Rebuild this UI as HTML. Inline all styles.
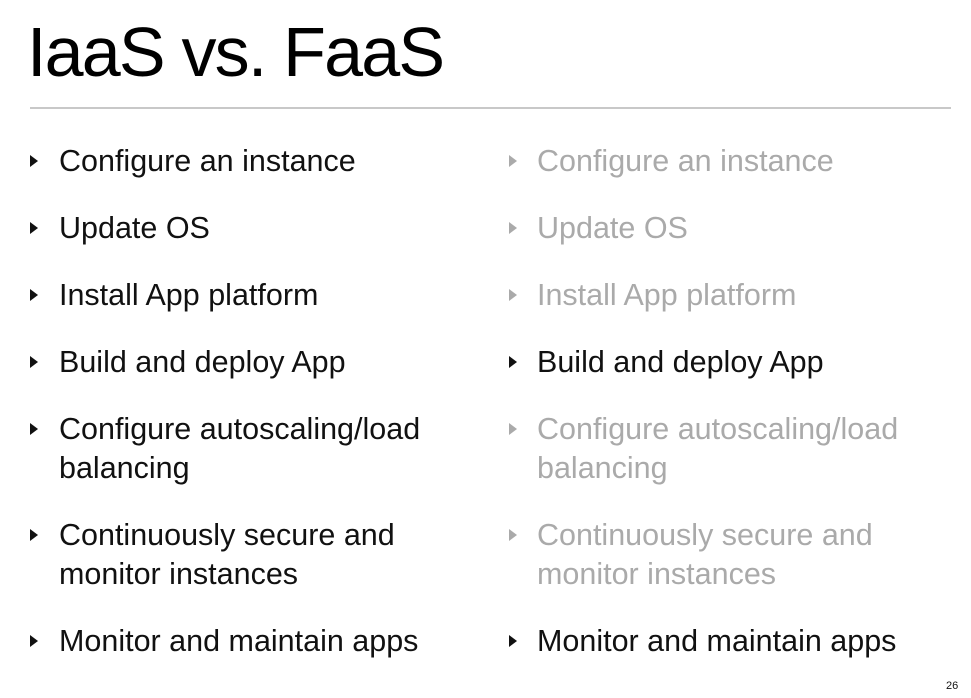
<!DOCTYPE html>
<html><head><meta charset="utf-8"><style>
html,body{margin:0;padding:0;background:#fff;}
body{width:971px;height:698px;position:relative;overflow:hidden;font-family:"Liberation Sans",sans-serif;}
.t{position:absolute;left:27px;top:12px;font-size:70px;line-height:80px;color:#000;letter-spacing:-1.8px;}
.rule{position:absolute;left:30px;top:107px;width:921px;height:2px;background:#c8c8c8;}
.b{position:absolute;font-size:30.5px;line-height:39px;color:#111;}
.g{color:#aaa;}
.tri{position:absolute;width:0;height:0;border-top:6.5px solid transparent;border-bottom:6.5px solid transparent;border-left:8px solid #111;}
.tri.g{border-left-color:#aaa;}
.pn{position:absolute;left:946px;top:680px;font-size:11px;color:#111;}
</style></head><body>
<div class="t">IaaS vs. FaaS</div>
<div class="rule"></div>

<div class="tri" style="left:30px;top:155px"></div><div class="b" style="left:59px;top:142px">Configure an instance</div>
<div class="tri" style="left:30px;top:222px"></div><div class="b" style="left:59px;top:209px">Update OS</div>
<div class="tri" style="left:30px;top:289px"></div><div class="b" style="left:59px;top:276px">Install App platform</div>
<div class="tri" style="left:30px;top:356px"></div><div class="b" style="left:59px;top:343px">Build and deploy App</div>
<div class="tri" style="left:30px;top:423px"></div><div class="b" style="left:59px;top:410px">Configure autoscaling/load<br>balancing</div>
<div class="tri" style="left:30px;top:529px"></div><div class="b" style="left:59px;top:516px">Continuously secure and<br>monitor instances</div>
<div class="tri" style="left:30px;top:635px"></div><div class="b" style="left:59px;top:622px">Monitor and maintain apps</div>

<div class="tri g" style="left:509px;top:155px"></div><div class="b g" style="left:537px;top:142px">Configure an instance</div>
<div class="tri g" style="left:509px;top:222px"></div><div class="b g" style="left:537px;top:209px">Update OS</div>
<div class="tri g" style="left:509px;top:289px"></div><div class="b g" style="left:537px;top:276px">Install App platform</div>
<div class="tri" style="left:509px;top:356px"></div><div class="b" style="left:537px;top:343px">Build and deploy App</div>
<div class="tri g" style="left:509px;top:423px"></div><div class="b g" style="left:537px;top:410px">Configure autoscaling/load<br>balancing</div>
<div class="tri g" style="left:509px;top:529px"></div><div class="b g" style="left:537px;top:516px">Continuously secure and<br>monitor instances</div>
<div class="tri" style="left:509px;top:635px"></div><div class="b" style="left:537px;top:622px">Monitor and maintain apps</div>

<div class="pn">26</div>
</body></html>
